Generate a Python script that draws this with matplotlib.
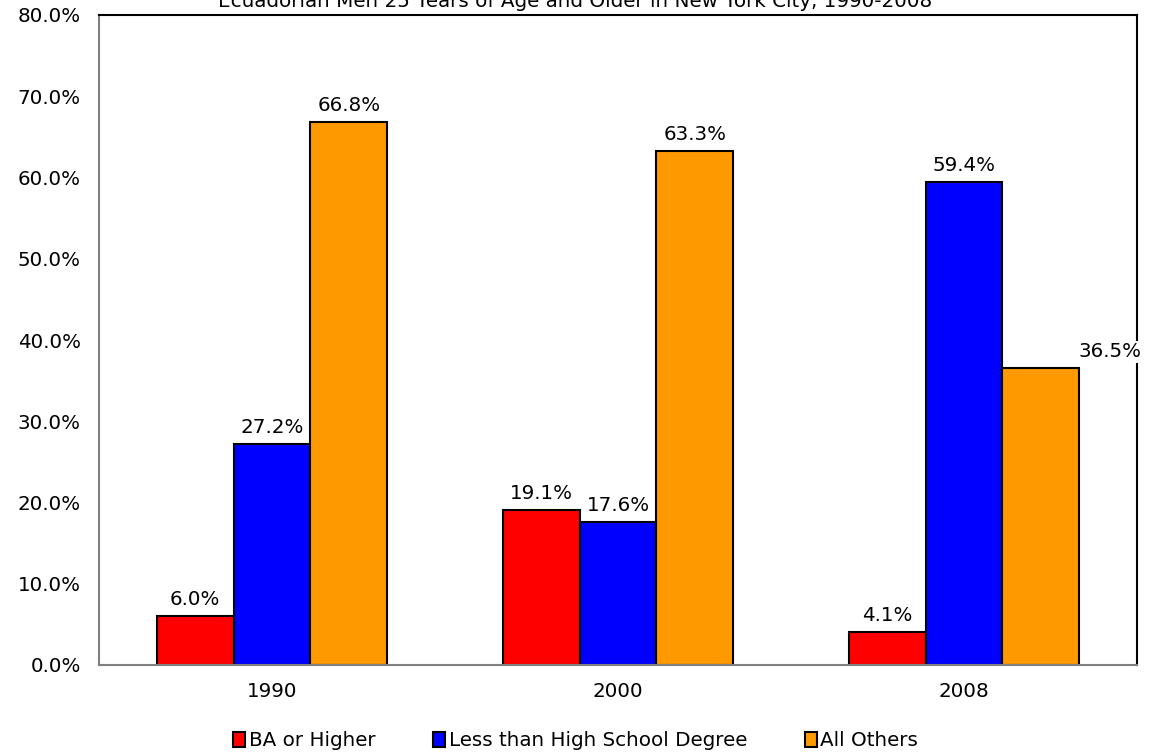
import matplotlib.pyplot as plt
import numpy as np

years = ['1990', '2000', '2008']
ba_higher = [6.0, 19.1, 4.1]
less_hs = [27.2, 17.6, 59.4]
all_others = [66.8, 63.3, 36.5]

series = [('BA or Higher', ba_higher, '#ff0000'),
          ('Less than High School Degree', less_hs, '#0000ff'),
          ('All Others', all_others, '#ff9900')]

plt.rcParams['font.family'] = ['DejaVu Sans']
fs = 14.3

fig = plt.figure(figsize=(11.51, 7.53), dpi=100)
ax = fig.add_axes([99 / 1151, 88 / 753, 1038 / 1151, 650 / 753])

x = np.arange(len(years))
w = 0.222
for i, (name, vals, col) in enumerate(series):
    bars = ax.bar(x + (i - 1) * w, vals, w, color=col, edgecolor='black',
                  linewidth=1.5, label=name, zorder=2)
    for j, (b, v) in enumerate(zip(bars, vals)):
        dx = 0
        kw = {}
        if name == 'All Others' and j == 2:
            dx = 0.2
            kw = dict(bbox=dict(facecolor='white', edgecolor='none', pad=1))
        ax.annotate(f'{v:.1f}%', (b.get_x() + b.get_width() / 2 + dx, v),
                    xytext=(0, 5), textcoords='offset points',
                    ha='center', va='bottom', fontsize=fs, zorder=5,
                    annotation_clip=False, **kw)

ax.set_xlim(-0.5, 2.5)
ax.set_ylim(0, 80)
ax.set_yticks(range(0, 81, 10))
ax.set_yticklabels([f'{t:.1f}%' for t in range(0, 81, 10)])
ax.set_xticks(x)
ax.set_xticklabels(years)
ax.tick_params(axis='both', length=0, labelsize=fs)
ax.tick_params(axis='y', pad=13)
ax.tick_params(axis='x', pad=12)
ax.spines['left'].set_color('#808080')
ax.spines['bottom'].set_color('#808080')
ax.spines['top'].set_color('black')
ax.spines['right'].set_color('black')
for s in ax.spines.values():
    s.set_linewidth(1.5)

# title sits partly above the canvas, as in the original
fig.text(0.5, 1 - 7 / 753, 'Ecuadorian Men 25 Years of Age and Older in New York City, 1990-2008',
         ha='center', va='baseline', fontsize=fs)

fig.legend(loc='center', bbox_to_anchor=(0.5, 1 - 741 / 753), ncol=3, frameon=False,
           fontsize=fs, handlelength=0.6, handleheight=0.8, handletextpad=0.2,
           columnspacing=2.9)

fig.savefig('out.png', dpi=100)
